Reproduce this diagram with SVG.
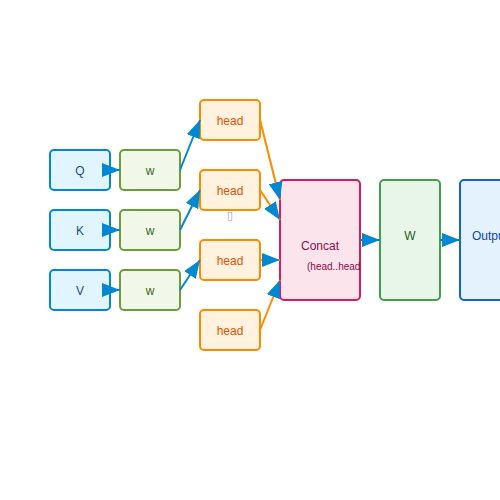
<svg xmlns="http://www.w3.org/2000/svg" width="500" height="500" viewBox="0 0 500 500">
<defs>
<style>
text{font-family:"Liberation Sans",Arial,sans-serif;font-size:12px;text-anchor:middle;}
.in rect{fill:#e1f5fe;stroke:#0288d1;stroke-width:2;}
.in text{fill:#1a4d7a;}
.w rect{fill:#f1f8e9;stroke:#689f38;stroke-width:2;}
.w text{fill:#33691e;}
.hd rect{fill:#fff3e0;stroke:#fb8c00;stroke-width:2;}
.hd text{fill:#e65100;}
.edge{fill:none;stroke-width:2;marker-end:url(#ah);}
.b{stroke:#0288d1;}
.o{stroke:#fb8c00;}
</style>
<marker id="ah" viewBox="0 0 18 14" refX="18" refY="7" markerWidth="18" markerHeight="14" markerUnits="userSpaceOnUse" orient="auto">
<path d="M0,0 L18,7 L0,14 Z" fill="#0288d1"/>
</marker>
</defs>
<rect width="500" height="500" fill="#ffffff"/>
<g id="Q" class="in"><rect x="50" y="150" width="60" height="40" rx="4"/><text x="80" y="175">Q</text></g>
<g id="K" class="in"><rect x="50" y="210" width="60" height="40" rx="4"/><text x="80" y="235">K</text></g>
<g id="V" class="in"><rect x="50" y="270" width="60" height="40" rx="4"/><text x="80" y="295">V</text></g>
<g id="wQ" class="w"><rect x="120" y="150" width="60" height="40" rx="4"/><text x="150" y="175">w</text></g>
<g id="wK" class="w"><rect x="120" y="210" width="60" height="40" rx="4"/><text x="150" y="235">w</text></g>
<g id="wV" class="w"><rect x="120" y="270" width="60" height="40" rx="4"/><text x="150" y="295">w</text></g>
<g id="head1" class="hd"><rect x="200" y="100" width="60" height="40" rx="4"/><text x="230" y="125">head</text></g>
<g id="head2" class="hd"><rect x="200" y="170" width="60" height="40" rx="4"/><text x="230" y="195">head</text><text x="230" y="219" style="fill:#9e9e9e;font-size:11px;font-family:'DejaVu Sans',sans-serif">▯</text></g>
<g id="head3" class="hd"><rect x="200" y="240" width="60" height="40" rx="4"/><text x="230" y="265">head</text></g>
<g id="head4" class="hd"><rect x="200" y="310" width="60" height="40" rx="4"/><text x="230" y="335">head</text></g>
<g id="concat"><rect x="280" y="180" width="80" height="120" rx="4" fill="#fce4ec" stroke="#d81b60" stroke-width="2"/><text x="320" y="250" fill="#880e4f">Concat</text><text x="307" y="270" style="text-anchor:start;font-size:10px" fill="#880e4f">(head..head</text></g>
<g id="W"><rect x="380" y="180" width="60" height="120" rx="4" fill="#e8f5e9" stroke="#43a047" stroke-width="2"/><text x="410" y="240" fill="#1b5e20">W</text></g>
<g id="output"><rect x="460" y="180" width="60" height="120" rx="4" fill="#e3f2fd" stroke="#1565c0" stroke-width="2"/><text x="472" y="240" style="text-anchor:start" fill="#0d47a1">Output</text></g>
<g id="connectors">
<path class="edge b" d="M110,170 L120,170"/>
<path class="edge b" d="M110,230 L120,230"/>
<path class="edge b" d="M110,290 L120,290"/>
<path class="edge b" d="M180,170 L200,120"/>
<path class="edge b" d="M180,230 L200,190"/>
<path class="edge b" d="M180,290 L200,260"/>
<path class="edge o" d="M260,120 L280,200"/>
<path class="edge o" d="M260,190 L280,220"/>
<path class="edge o" d="M260,260 L280,260"/>
<path class="edge o" d="M260,330 L280,280"/>
<path class="edge b" d="M360,240 L380,240"/>
<path class="edge b" d="M440,240 L460,240"/>
</g>
</svg>
